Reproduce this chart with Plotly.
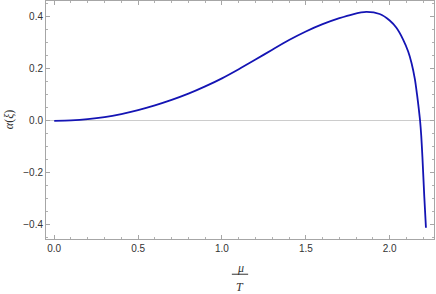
import plotly.graph_objects as go

# data
mu_over_T = [0.0, 0.1, 0.2, 0.3, 0.4, 0.5, 0.6, 0.7, 0.8, 0.9, 1.0, 1.1, 1.2, 1.3, 1.4,
             1.5, 1.6, 1.7, 1.78, 1.86, 1.94, 2.0, 2.04, 2.08, 2.11, 2.13, 2.15, 2.163,
             2.173, 2.181, 2.188, 2.195, 2.206, 2.216]
alpha = [0.0, 0.0015, 0.006, 0.014, 0.026, 0.041, 0.059, 0.080, 0.104, 0.132, 0.163, 0.198,
         0.235, 0.273, 0.310, 0.343, 0.371, 0.394, 0.409, 0.418, 0.410, 0.385, 0.357, 0.312,
         0.266, 0.222, 0.160, 0.100, 0.048, 0.0, -0.058, -0.14, -0.29, -0.411]

x_ticks = [0.0, 0.5, 1.0, 1.5, 2.0]
x_ticklabels = ["0.0", "0.5", "1.0", "1.5", "2.0"]
y_ticks = [-0.4, -0.2, 0.0, 0.2, 0.4]
y_ticklabels = ["\u22120.4", "\u22120.2", "0.0", "0.2", "0.4"]

fig = go.Figure()
fig.add_trace(go.Scatter(x=mu_over_T, y=alpha, mode="lines",
                         line=dict(color="#1414b4", width=1.8, shape="spline", smoothing=0.7),
                         hoverinfo="skip"))

axis_common = dict(showgrid=False, showline=True, linecolor="#a6a6a6", linewidth=1,
                   mirror="ticks", ticks="inside", ticklen=4, tickcolor="#a6a6a6",
                   tickfont=dict(family="Liberation Sans, Arial", size=10, color="#333333"))

fig.update_xaxes(range=[-0.049, 2.264], tickvals=x_ticks, ticktext=x_ticklabels,
                 zeroline=False,
                 minor=dict(dtick=0.1, tick0=0, ticks="inside", ticklen=2, tickcolor="#b0b0b0"),
                 **axis_common)
fig.update_yaxes(range=[-0.454, 0.460], tickvals=y_ticks, ticktext=y_ticklabels,
                 zeroline=True, zerolinecolor="#cccccc", zerolinewidth=1,
                 minor=dict(dtick=0.05, tick0=0, ticks="inside", ticklen=2, tickcolor="#b0b0b0"),
                 **axis_common)

label_font = dict(family="Liberation Serif, DejaVu Serif", size=12, color="#333333")
fig.add_annotation(text="<i>\u03b1</i>(<i>\u03be</i>)", xref="paper", yref="paper",
                   x=-0.095, y=0.5, showarrow=False, textangle=-90,
                   xanchor="center", yanchor="middle", font=label_font)
fig.add_annotation(text="<i>\u03bc</i>", xref="paper", yref="paper", x=0.5, y=-0.123,
                   showarrow=False, xanchor="center", yanchor="middle", font=label_font)
fig.add_annotation(text="<i>T</i>", xref="paper", yref="paper", x=0.5, y=-0.2,
                   showarrow=False, xanchor="center", yanchor="middle", font=label_font)
fig.add_shape(type="line", xref="paper", yref="paper", x0=0.479, x1=0.521,
              y0=-0.148, y1=-0.148, line=dict(color="#333333", width=1))

fig.update_layout(width=436, height=294, margin=dict(l=46, r=2, t=1, b=55),
                  paper_bgcolor="white", plot_bgcolor="white", showlegend=False)

fig.write_html("out.html", config={"displayModeBar": False},
               post_script="document.body.style.margin='0';")
